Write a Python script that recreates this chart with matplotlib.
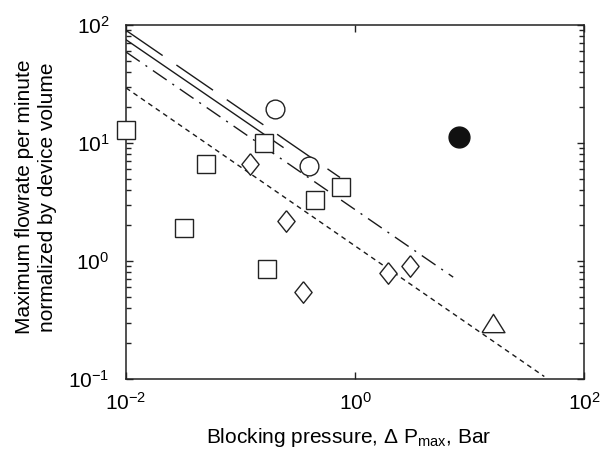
import matplotlib
matplotlib.use('Agg')
import matplotlib.pyplot as plt
from matplotlib.ticker import LogLocator, FixedLocator, NullLocator

plt.rcParams['font.family'] = ['Liberation Sans', 'DejaVu Sans']
plt.rcParams['mathtext.fontset'] = 'custom'
plt.rcParams['mathtext.rm'] = 'Liberation Sans'
plt.rcParams['mathtext.it'] = 'Liberation Sans:italic'
plt.rcParams['mathtext.default'] = 'regular'

# measured devices, grouped by symbol
sq_x = [0.01, 0.05, 0.16, 0.45, 0.75, 0.032, 0.17]
sq_y = [13.0, 6.6, 10.0, 3.3, 4.2, 1.9, 0.85]
circ_x = [0.2, 0.4]
circ_y = [19.5, 6.4]
dot_x = [8.1]
dot_y = [11.2]
dia_x = [0.12, 0.25, 0.35, 1.95, 3.0]
dia_y = [6.6, 2.2, 0.55, 0.79, 0.9]
tri_x = [16.0]
tri_y = [0.30]

# scaling lines (start / end points)
long_x = [0.01, 0.74]
long_y = [90.0, 5.1]
solid_x = [0.01, 0.235]
solid_y = [75.0, 9.2]
dashdot_x = [0.01, 7.2]
dashdot_y = [59.0, 0.73]
short_x = [0.01, 45.0]
short_y = [29.3, 0.105]

fig = plt.figure(figsize=(6.1, 4.51), dpi=100)
ax = fig.add_axes([0.2066, 0.1596, 0.7508, 0.785])

lc = '#1a1a1a'
ax.plot(long_x, long_y, color=lc, lw=1.0, ls=(0, (32, 12)))
ax.plot(solid_x, solid_y, color=lc, lw=1.0)
ax.plot(dashdot_x, dashdot_y, color=lc, lw=1.0, ls=(0, (12, 5, 1.5, 5)))
ax.plot(short_x, short_y, color=lc, lw=1.0, ls=(0, (3.5, 3)))

mk = dict(ls='none', mfc='white', mec='#222222', mew=1.0, clip_on=False, zorder=3)
ax.plot(sq_x, sq_y, marker='s', ms=13, **mk)
ax.plot(circ_x, circ_y, marker='o', ms=13.5, **mk)
ax.plot(dia_x, dia_y, marker=[(0, 1), (0.8, 0), (0, -1), (-0.8, 0), (0, 1)], ms=15.5, **mk)
ax.plot(tri_x, tri_y, marker=[(-1, -0.8), (1, -0.8), (0, 0.8), (-1, -0.8)], ms=16.5, **mk)
ax.plot(dot_x, dot_y, ls='none', marker='o', ms=15, mfc='#111111', mec='#111111', zorder=3)

ax.set_xscale('log')
ax.set_yscale('log')
ax.set_xlim(1e-2, 1e2)
ax.set_ylim(1e-1, 1e2)

ax.xaxis.set_major_locator(FixedLocator([1e-2, 1e0, 1e2]))
ax.xaxis.set_minor_locator(NullLocator())
ax.yaxis.set_major_locator(LogLocator(base=10))
ax.yaxis.set_minor_locator(LogLocator(base=10, subs=range(2, 10)))

ax.tick_params(which='both', direction='in', top=True, right=True,
               labelsize=15, width=1.0, color='#222222')
ax.tick_params(which='major', length=5)
ax.tick_params(which='minor', length=3.5)
ax.tick_params(axis='x', pad=9)
ax.tick_params(axis='y', pad=12)

for s in ax.spines.values():
    s.set_linewidth(1.1)
    s.set_color('#222222')

ax.set_xlabel('Blocking pressure, \u0394 P$_{max}$, Bar', fontsize=15, va='center')
ax.xaxis.set_label_coords(0.487, -0.164)
ax.set_ylabel('Maximum flowrate per minute\nnormalized by device volume',
              fontsize=15, va='center', linespacing=1.25)
ax.yaxis.set_label_coords(-0.196, 0.514)

fig.savefig('out.png', dpi=100)
